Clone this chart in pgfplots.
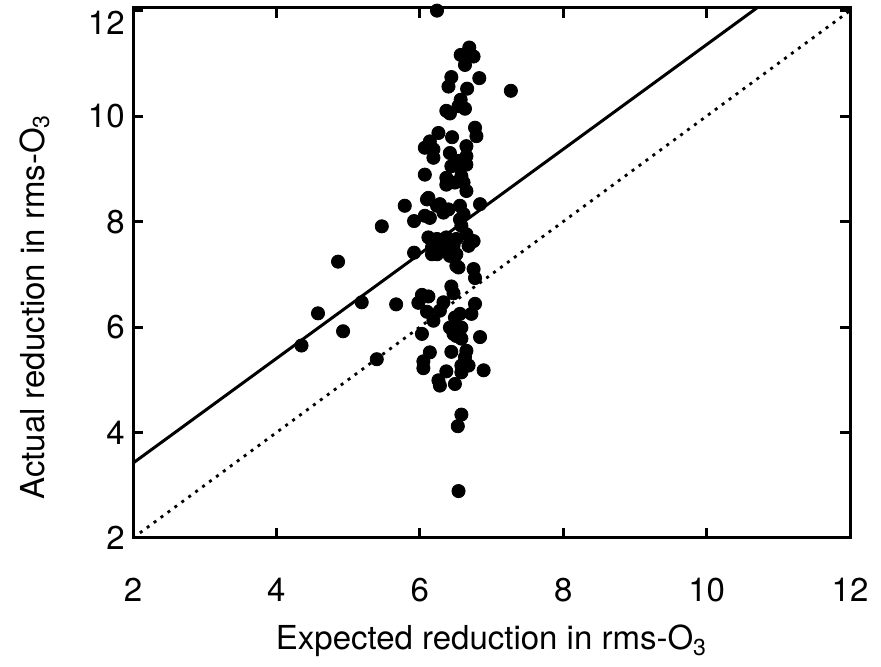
\documentclass[border=0pt]{standalone}
\usepackage{fontspec}
\setmainfont{TeX Gyre Heros}
\usepackage{pgfplots}
\pgfplotsset{compat=1.18}
\begin{document}
\begin{tikzpicture}
\begin{axis}[
  name=ax,
  scale only axis,
  width=358.5pt, height=265pt,
  xmin=2, xmax=12, ymin=2, ymax=12.05,
  xtick={2,4,...,12}, ytick={2,4,...,10},
  extra y ticks={12},
  extra y tick style={yticklabel style={yshift=-6pt}},
  tick align=inside, major tick length=5pt,
  axis line style={line width=1.5pt},
  every tick/.style={line width=1.5pt, black},
  tick label style={font=\fontsize{16.5}{18}\selectfont},
  label style={font=\fontsize{16.5}{18}\selectfont},
  /pgf/number format/assume math mode=true,
  xticklabel style={anchor=base, yshift=-32pt},
  yticklabel style={anchor=east, inner sep=0pt, xshift=-4pt},
  ylabel={Actual reduction in rms-O\textsubscript{3}},
  ylabel style={at={(axis description cs:-0.1241,0.436)}, anchor=base},
  clip=true,
]
\addplot[black, line width=1.4pt, dotted, dash pattern=on 1.5pt off 2.8pt] coordinates {(2,2) (12,12)};
\addplot[black, line width=1.5pt] coordinates {(2,3.42) (10.70,12.05)};
\addplot[only marks, mark=*, mark size=3.3pt, mark options={fill=black, draw=black}] table {
x y
6.24 12.00
7.27 10.48
4.35 5.65
4.58 6.26
4.86 7.24
4.93 5.92
5.19 6.47
5.40 5.39
5.47 7.91
5.67 6.43
5.79 8.30
5.92 8.01
5.92 7.41
6.54 2.89
6.69 11.30
6.57 11.16
6.75 11.13
6.63 10.97
6.44 10.74
6.83 10.72
6.40 10.56
6.66 10.52
6.57 10.31
6.54 10.19
6.37 10.10
6.42 10.05
6.63 10.14
6.77 9.78
6.79 9.62
6.26 9.68
6.14 9.52
6.07 9.40
6.19 9.37
6.45 9.60
6.65 9.43
6.42 9.30
6.19 9.21
6.65 9.24
6.65 9.08
6.44 9.05
6.54 9.15
6.56 9.02
6.07 8.89
6.37 8.83
6.58 8.86
6.49 8.74
6.37 8.70
6.61 8.74
6.65 8.58
6.12 8.45
6.28 8.33
6.40 8.23
6.33 8.17
6.56 8.30
6.61 8.14
6.84 8.33
6.07 8.11
6.10 8.42
6.24 8.30
6.14 8.07
6.56 8.04
6.58 7.92
6.12 7.70
6.24 7.67
6.37 7.70
6.51 7.67
6.65 7.76
6.75 7.63
6.68 7.54
6.17 7.51
6.33 7.51
6.47 7.54
6.24 7.38
6.42 7.35
6.17 7.38
6.51 7.38
6.54 7.13
6.51 7.16
6.75 7.10
6.77 6.93
6.44 6.77
6.47 6.64
6.03 6.61
6.12 6.58
5.98 6.46
6.10 6.29
6.19 6.12
6.33 6.47
6.28 6.31
6.77 6.44
6.72 6.25
6.49 6.18
6.56 6.25
6.42 5.99
6.58 5.99
6.51 5.83
6.03 5.87
6.84 5.81
6.47 5.87
6.58 5.78
6.14 5.52
6.05 5.35
6.05 5.22
6.44 5.53
6.65 5.55
6.63 5.43
6.37 5.16
6.58 5.27
6.68 5.27
6.58 5.14
6.89 5.18
6.26 4.99
6.28 4.89
6.49 4.92
6.58 4.34
6.53 4.12
};
\end{axis}
\node[anchor=base, inner sep=0pt, font=\fontsize{16.5}{18}\selectfont] at ([yshift=-56pt]ax.south) {Expected reduction in rms-O\textsubscript{3}};
\path ([xshift=-66.5pt,yshift=-64.5pt]ax.south west) ([xshift=15.5pt,yshift=4pt]ax.north east);
\end{tikzpicture}
\end{document}
